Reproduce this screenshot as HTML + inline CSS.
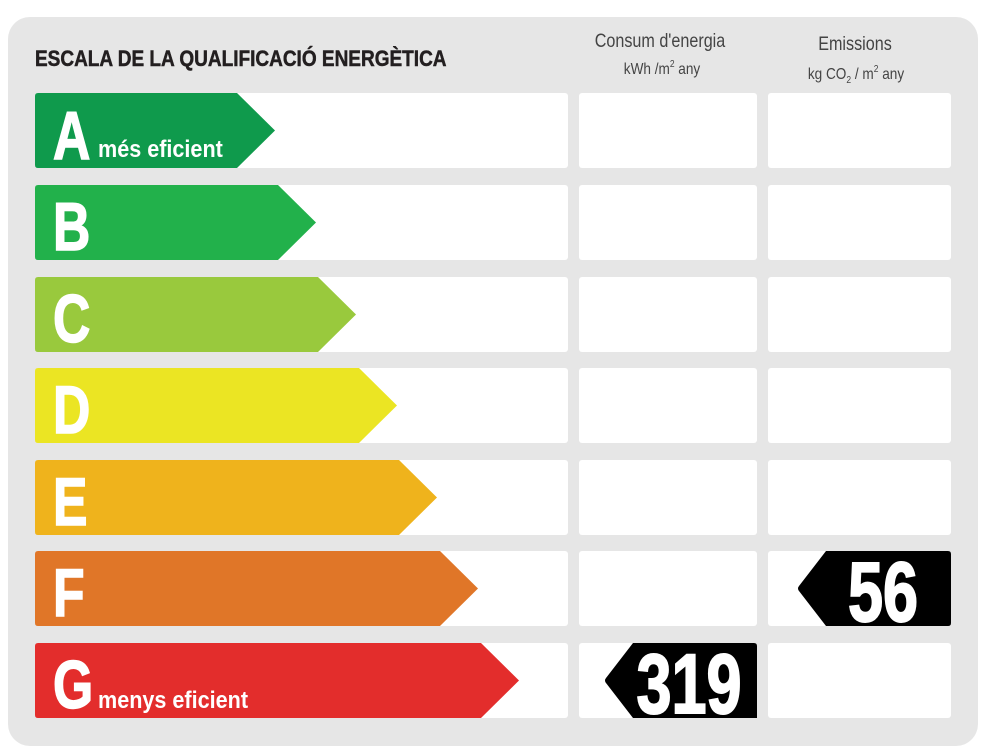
<!DOCTYPE html>
<html><head><meta charset="utf-8"><style>
html,body{margin:0;padding:0;background:#fff;}
svg{display:block;}
</style></head><body>
<svg width="986" height="755" viewBox="0 0 986 755" xmlns="http://www.w3.org/2000/svg" font-family="Liberation Sans, sans-serif">
<rect x="8" y="17" width="970" height="729" rx="22" fill="#e6e6e6"/>
<text x="35" y="66" font-size="22" font-weight="bold" fill="#231f20" stroke="#231f20" stroke-width="0.5" transform="translate(35 0) scale(0.865 1) translate(-35 0)">ESCALA DE LA QUALIFICACIÓ ENERGÈTICA</text>
<g fill="#444" text-anchor="middle">
<text x="660" y="47" font-size="19" transform="translate(660 0) scale(0.85 1) translate(-660 0)">Consum d'energia</text>
<text x="662" y="74" font-size="16" transform="translate(662 0) scale(0.85 1) translate(-662 0)">kWh /m<tspan font-size="10" dy="-7">2</tspan><tspan dy="7">  any</tspan></text>
<text x="855" y="50" font-size="19" transform="translate(855 0) scale(0.85 1) translate(-855 0)">Emissions</text>
<text x="856" y="79" font-size="16" transform="translate(856 0) scale(0.85 1) translate(-856 0)">kg CO<tspan font-size="10" dy="4">2</tspan><tspan dy="-4">  / m</tspan><tspan font-size="10" dy="-7">2</tspan><tspan dy="7">  any</tspan></text>
</g>
<g fill="#fff">
<rect x="35" y="93" width="533" height="75" rx="3"/><rect x="579" y="93" width="178" height="75" rx="3"/><rect x="768" y="93" width="183" height="75" rx="3"/>
<rect x="35" y="185" width="533" height="75" rx="3"/><rect x="579" y="185" width="178" height="75" rx="3"/><rect x="768" y="185" width="183" height="75" rx="3"/>
<rect x="35" y="277" width="533" height="75" rx="3"/><rect x="579" y="277" width="178" height="75" rx="3"/><rect x="768" y="277" width="183" height="75" rx="3"/>
<rect x="35" y="368" width="533" height="75" rx="3"/><rect x="579" y="368" width="178" height="75" rx="3"/><rect x="768" y="368" width="183" height="75" rx="3"/>
<rect x="35" y="460" width="533" height="75" rx="3"/><rect x="579" y="460" width="178" height="75" rx="3"/><rect x="768" y="460" width="183" height="75" rx="3"/>
<rect x="35" y="551" width="533" height="75" rx="3"/><rect x="579" y="551" width="178" height="75" rx="3"/><rect x="768" y="551" width="183" height="75" rx="3"/>
<rect x="35" y="643" width="533" height="75" rx="3"/><rect x="579" y="643" width="178" height="75" rx="3"/><rect x="768" y="643" width="183" height="75" rx="3"/>
</g>
<g>
<path d="M38 93 H237 L275 130.5 L237 168 H38 Q35 168 35 165 V96 Q35 93 38 93Z" fill="#0f9a4c"/>
<path d="M38 185 H278 L316 222.5 L278 260 H38 Q35 260 35 257 V188 Q35 185 38 185Z" fill="#22b14b"/>
<path d="M38 277 H318 L356 314.5 L318 352 H38 Q35 352 35 349 V280 Q35 277 38 277Z" fill="#99c93d"/>
<path d="M38 368 H359 L397 405.5 L359 443 H38 Q35 443 35 440 V371 Q35 368 38 368Z" fill="#ebe523"/>
<path d="M38 460 H399 L437 497.5 L399 535 H38 Q35 535 35 532 V463 Q35 460 38 460Z" fill="#efb31c"/>
<path d="M38 551 H440 L478 588.5 L440 626 H38 Q35 626 35 623 V554 Q35 551 38 551Z" fill="#e07628"/>
<path d="M38 643 H481 L519 680.5 L481 718 H38 Q35 718 35 715 V646 Q35 643 38 643Z" fill="#e32d2c"/>
</g>
<g fill="#fff" stroke="#fff" stroke-width="1.5" font-weight="bold" font-size="68">
<text x="53" y="159" transform="translate(53 0) scale(0.76 1) translate(-53 0)">A</text>
<text x="53" y="250" transform="translate(53 0) scale(0.76 1) translate(-53 0)">B</text>
<text x="53" y="342" transform="translate(53 0) scale(0.76 1) translate(-53 0)">C</text>
<text x="53" y="433" transform="translate(53 0) scale(0.76 1) translate(-53 0)">D</text>
<text x="53" y="525" transform="translate(53 0) scale(0.76 1) translate(-53 0)">E</text>
<text x="53" y="616" transform="translate(53 0) scale(0.76 1) translate(-53 0)">F</text>
<text x="53" y="708" transform="translate(53 0) scale(0.76 1) translate(-53 0)">G</text>
</g>
<g fill="#fff" font-weight="bold" font-size="24">
<text x="98" y="157" transform="translate(98 0) scale(0.9 1) translate(-98 0)">més eficient</text>
<text x="98" y="708" transform="translate(98 0) scale(0.9 1) translate(-98 0)">menys eficient</text>
</g>
<path d="M633 643 H754 Q757 643 757 646 V718 H633 L606 683 Q604 680.5 606 678 Z" fill="#000"/>
<path d="M826 551 H948 Q951 551 951 554 V623 Q951 626 948 626 H826 L799 591 Q797 588.5 799 586 Z" fill="#000"/>
<g fill="#fff" stroke="#fff" stroke-width="2" font-weight="bold" font-size="84" text-anchor="middle">
<text x="689" y="713" transform="translate(689 0) scale(0.75 1) translate(-689 0)">319</text>
<text x="883" y="621" transform="translate(883 0) scale(0.75 1) translate(-883 0)">56</text>
</g>
</svg>
</body></html>
